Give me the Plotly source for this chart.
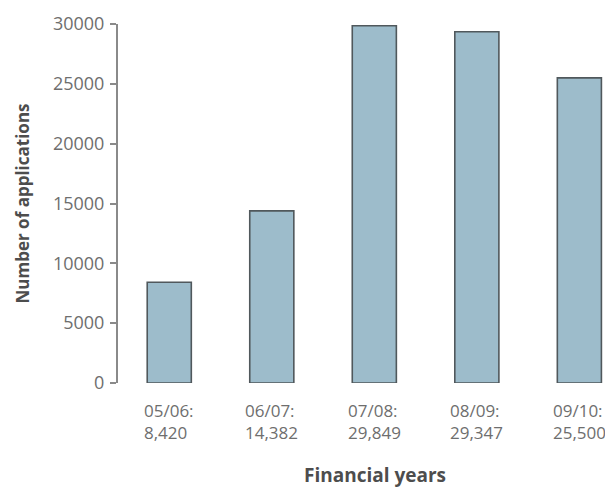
import plotly.graph_objects as go

# Applications received per financial year
years = ["05/06", "06/07", "07/08", "08/09", "09/10"]
applications = [8420, 14382, 29849, 29347, 25500]
y_ticks = [0, 5000, 10000, 15000, 20000, 25000, 30000]

BAR_FILL = "#9dbccb"
BAR_EDGE = "#50585c"
AXIS_GREY = "#8a8a8a"
TICK_TEXT = "#6e6e6e"
TITLE_TEXT = "#4d4d4d"
FONT = "Open Sans"

fig = go.Figure()

fig.add_trace(go.Bar(
    x=list(range(len(years))),
    y=applications,
    width=0.43,
    marker=dict(color=BAR_FILL, line=dict(color=BAR_EDGE, width=1.6)),
    hoverinfo="skip",
))

# Two-line category labels: "year:" over the comma-formatted count
for i, (yr, n) in enumerate(zip(years, applications)):
    fig.add_annotation(
        x=i, xref="x", y=-0.04, yref="paper",
        text=f"{yr}:<br>{n:,}",
        showarrow=False, xanchor="center", yanchor="top", align="left",
        font=dict(family=FONT, size=17, color=TICK_TEXT),
    )

fig.add_annotation(
    x=0.527, xref="paper", y=-0.256, yref="paper",
    text="<b>Financial years</b>", showarrow=False,
    xanchor="center", yanchor="middle",
    font=dict(family=FONT, size=19, color=TITLE_TEXT),
)

fig.update_layout(
    width=605, height=489,
    margin=dict(l=118, r=0, t=24, b=106),
    paper_bgcolor="white", plot_bgcolor="white",
    showlegend=False,
    xaxis=dict(
        range=[-0.5, 4.25], showticklabels=False, showgrid=False,
        zeroline=False, showline=False, ticks="",
    ),
    yaxis=dict(
        range=[0, 30000], tickvals=y_ticks, ticktext=[str(v) for v in y_ticks],
        showgrid=False, zeroline=False,
        showline=True, linecolor=AXIS_GREY, linewidth=2,
        ticks="outside", ticklen=6, tickwidth=1.5, tickcolor=AXIS_GREY,
        tickfont=dict(family=FONT, size=18, color=TICK_TEXT),
        ticklabelstandoff=2,
        title=dict(text="<b>Number of applications</b>", standoff=19,
                   font=dict(family=FONT, size=17, color=TITLE_TEXT)),
    ),
)

fig.write_html("out.html")
